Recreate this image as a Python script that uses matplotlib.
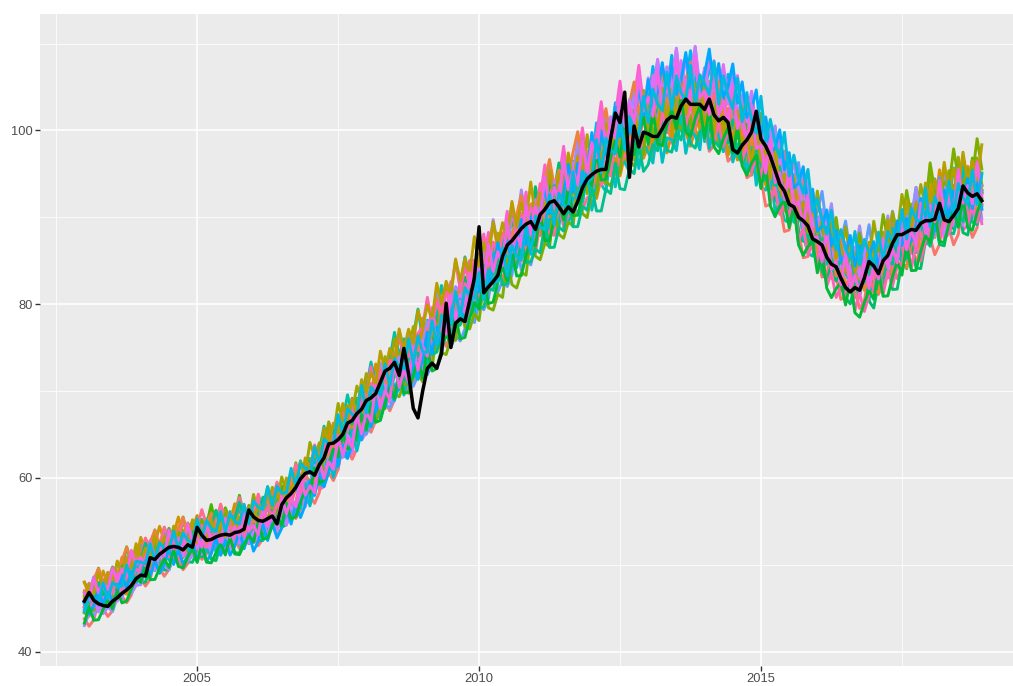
import numpy as np
import matplotlib
matplotlib.use("Agg")
import matplotlib.pyplot as plt

# monthly series, Jan 2003 .. Dec 2018
start_year = 2003

# observed index (black line), one row per year
observed = [
    45.8, 46.8, 45.9, 45.5, 45.3, 45.2, 45.8, 46.2, 46.7, 47.1, 47.6, 48.4,
    48.8, 48.7, 50.8, 50.6, 51.2, 51.6, 52.0, 52.1, 52.0, 51.7, 52.3, 52.0,
    54.3, 53.4, 52.8, 52.9, 53.2, 53.4, 53.5, 53.4, 53.7, 53.8, 54.1, 56.3,
    55.5, 55.1, 55.0, 55.3, 55.6, 54.7, 56.9, 57.7, 58.2, 58.9, 59.9, 60.5,
    60.7, 60.3, 61.5, 62.3, 63.9, 64.0, 64.4, 65.0, 66.3, 66.6, 67.4, 67.9,
    68.9, 69.2, 69.7, 71.0, 72.3, 72.6, 73.3, 71.8, 74.9, 72.0, 68.0, 66.9,
    70.0, 72.6, 73.2, 72.6, 74.3, 80.1, 75.0, 77.8, 78.3, 78.0, 80.4, 83.0,
    88.9, 81.3, 82.0, 82.6, 83.3, 85.5, 86.8, 87.3, 88.0, 88.7, 89.2, 89.5,
    88.6, 90.3, 90.9, 91.7, 91.9, 91.2, 90.4, 91.2, 90.6, 91.8, 93.4, 94.4,
    94.9, 95.3, 95.5, 95.5, 99.0, 102.0, 100.9, 104.4, 94.6, 100.5, 98.1, 99.8,
    99.6, 99.3, 99.3, 100.2, 101.2, 101.6, 101.4, 102.8, 103.6, 103.0, 103.0, 103.0,
    102.4, 103.6, 101.8, 101.1, 101.5, 100.9, 97.8, 97.4, 98.3, 98.9, 99.8, 102.2,
    99.0, 98.2, 97.0, 95.4, 93.8, 93.0, 91.5, 91.2, 90.0, 89.6, 89.0, 87.5,
    87.2, 86.8, 85.4, 84.6, 84.3, 83.0, 81.9, 81.4, 81.9, 81.6, 83.0, 84.9,
    84.4, 83.5, 85.0, 85.6, 87.0, 88.0, 88.0, 88.3, 88.6, 88.5, 89.3, 89.6,
    89.6, 89.8, 91.6, 89.7, 89.5, 90.2, 91.0, 93.6, 92.8, 92.4, 92.7, 91.9,
]

# centre of the simulated band
band_centre = [
    45.5, 45.8, 46.1, 46.4, 46.7, 47.0, 47.2, 47.7, 48.2, 48.7, 49.1, 49.6,
    50.0, 50.3, 50.6, 50.9, 51.2, 51.5, 51.8, 52.0, 52.2, 52.3, 52.5, 52.7,
    52.8, 53.0, 53.1, 53.3, 53.4, 53.6, 53.7, 53.9, 54.1, 54.3, 54.4, 54.6,
    54.8, 55.1, 55.4, 55.8, 56.1, 56.4, 56.7, 57.3, 57.8, 58.4, 58.9, 59.5,
    60.0, 60.7, 61.4, 62.1, 62.8, 63.5, 64.2, 64.8, 65.5, 66.1, 66.7, 67.4,
    68.0, 68.6, 69.3, 69.9, 70.5, 71.2, 71.8, 72.3, 72.8, 73.3, 73.8, 74.3,
    74.8, 75.5, 76.1, 76.8, 77.5, 78.1, 78.8, 79.4, 80.0, 80.6, 81.2, 81.8,
    82.4, 83.0, 83.5, 84.1, 84.7, 85.2, 85.8, 86.3, 86.8, 87.3, 87.9, 88.4,
    88.9, 89.4, 90.0, 90.5, 91.0, 91.5, 92.0, 92.5, 93.0, 93.5, 94.0, 94.5,
    95.0, 95.6, 96.1, 96.7, 97.2, 97.8, 98.3, 98.7, 99.1, 99.6, 100.0, 100.4,
    100.8, 101.1, 101.4, 101.7, 102.0, 102.3, 102.6, 102.7, 102.8, 102.8, 102.8, 102.7,
    102.6, 102.4, 102.1, 101.8, 101.5, 101.2, 100.8, 100.3, 99.8, 99.2, 98.6, 98.0,
    97.5, 96.7, 95.9, 95.1, 94.4, 93.6, 92.8, 92.0, 91.2, 90.4, 89.6, 88.8,
    88.0, 87.3, 86.6, 85.9, 85.2, 84.6, 84.1, 83.8, 83.6, 83.5, 83.5, 83.7,
    84.0, 84.4, 84.8, 85.3, 85.8, 86.3, 86.9, 87.4, 87.9, 88.4, 88.8, 89.3,
    89.8, 90.1, 90.4, 90.7, 91.0, 91.3, 91.6, 91.8, 92.0, 92.2, 92.4, 92.6,
]

# yearly level of each simulation relative to the centre, % (2003..2018)
sim_level = [
    [1.5, 2.3, 1.2, 0.4, -0.6, -1.5, -0.8, 0.3, 1.4, 2.5, 3.2, 2.2, 1.0, -0.2, 0.6, 1.8],
    [-2.8, -1.9, -0.8, 0.2, 1.1, 2.0, 1.2, 0.1, -1.0, -2.1, -3.0, -2.2, -1.1, 0.0, 1.0, 2.1],
    [0.4, -0.6, -1.7, -2.6, -3.5, -2.6, -1.5, -0.4, 0.7, 1.8, 2.7, 3.5, 2.5, 1.4, 0.3, -0.8],
    [3.4, 2.6, 3.3, 2.2, 1.1, 0.0, -1.0, -0.1, 1.0, 2.0, 1.0, -0.2, -1.3, -0.5, 0.6, 1.5],
    [-1.0, 0.0, 1.1, 2.2, 3.2, 3.9, 3.0, 2.0, 0.9, -0.2, -1.2, -2.3, -3.2, -2.4, -1.3, -0.3],
    [-4.8, -4.0, -3.0, -3.8, -4.5, -3.4, -2.3, -1.2, -0.2, -1.1, -2.2, -3.2, -4.1, -3.3, -2.4, -3.4],
    [2.4, 1.4, 0.3, -0.8, -1.8, -2.9, -3.8, -2.9, -1.8, -0.7, 0.4, 1.5, 2.6, 3.5, 2.7, 1.6],
    [-0.3, 0.8, 1.9, 3.0, 3.8, 2.9, 1.8, 0.7, -0.4, -1.5, -0.6, 0.5, 1.6, 2.7, 3.6, 2.8],
    [1.0, 0.1, -1.0, -2.0, -1.1, 0.0, 1.1, 2.2, 3.2, 4.0, 3.1, 2.0, 0.9, -0.2, -1.2, -2.1],
    [-2.1, -3.1, -4.0, -3.2, -2.1, -1.0, 0.1, 1.2, 2.2, 1.3, 0.2, -0.9, -2.0, -3.0, -3.8, -2.9],
    [3.0, 3.8, 2.9, 1.8, 0.7, -0.4, 0.5, 1.6, 0.6, -0.5, -1.6, -2.5, -1.6, -0.5, 0.6, 1.7],
    [-4.0, -3.1, -2.0, -0.9, 0.2, 1.3, 2.3, 3.2, 2.4, 1.3, 0.2, 1.1, 2.2, 3.1, 2.2, 1.1],
    [0.0, -1.0, -2.1, -3.1, -3.9, -3.0, -1.9, -0.8, -1.8, -2.9, -3.8, -2.9, -1.8, -0.7, 0.4, 1.4],
    [2.0, 3.0, 3.8, 3.0, 1.9, 0.8, -0.3, -1.4, -2.4, -1.5, -0.4, 0.7, 1.8, 0.8, -0.3, -1.3],
    [-1.5, -0.5, 0.6, -0.5, -1.6, -2.6, -3.5, -4.2, -3.3, -2.2, -1.1, 0.0, 1.1, 2.1, 3.0, 3.7],
    [3.8, 3.0, 2.0, 0.9, -0.2, 0.8, 1.9, 3.0, 3.8, 3.0, 1.9, 0.8, -0.3, -1.3, -2.2, -1.2],
    [-2.5, -1.5, -2.4, -3.3, -2.3, -1.2, -0.1, 1.0, 2.0, 3.0, 3.7, 2.8, 1.7, 0.6, -0.5, -1.5],
    [0.8, 1.8, 2.8, 1.8, 0.7, -0.4, -1.5, -2.5, -3.4, -4.1, -3.2, -2.1, -1.0, 0.1, -0.9, -2.0],
    [-0.7, -1.7, -0.6, 0.5, 1.6, 2.6, 3.5, 2.6, 1.5, 0.4, -0.7, -1.8, -2.8, -3.7, -2.8, -1.7],
    [2.7, 1.7, 0.6, 1.7, 2.8, 3.7, 4.3, 3.4, 2.3, 1.2, 0.1, -1.0, 0.0, 1.1, 2.2, 3.2],
    [-1.8, -2.8, -3.7, -4.4, -3.5, -2.4, -1.3, -0.2, 0.9, 2.0, 3.0, 3.8, 3.0, 1.9, 0.8, -0.3],
    [-4.4, -3.6, -4.3, -3.4, -2.3, -3.2, -4.0, -3.1, -2.0, -0.9, -1.9, -2.9, -3.8, -4.5, -3.6, -2.5],
    [1.7, 0.7, -0.4, -1.5, -2.5, -1.6, -0.5, 0.6, 1.7, 2.8, 2.0, 0.9, -0.2, -1.3, -0.3, 0.8],
    [-0.4, 0.6, 1.7, 2.7, 1.8, 0.7, -0.4, -1.5, -0.6, 0.5, 1.6, 2.7, 3.6, 2.7, 1.6, 0.5],
]

# spiky month-to-month wiggle of each simulation, %, repeated along the series
sim_wiggle = [
    [-1.0, 3.0, -0.5, -1.5],
    [0.5, -1.0, 3.5, 0.0, -1.5],
    [-1.5, 2.5, -1.0],
    [2.0, -1.0, -0.5, 3.5, -1.5, -1.0],
    [-0.5, 3.0, -1.5, 0.5, -1.0],
    [1.0, -1.5, -0.5, 3.5],
    [-1.5, -0.5, 3.0, -1.0, 0.0],
    [3.0, -1.0, 0.5, -1.5, 2.0, -1.5],
    [-1.0, 0.0, 3.5, -1.5],
    [0.0, 3.0, -1.0, -1.5, 1.5],
    [2.5, -1.5, 0.5, -1.0],
    [-1.5, 1.0, -0.5, 3.5, -1.0, 0.0],
    [0.5, -1.0, 3.0, -1.5, 1.0],
    [-1.0, 2.5, -1.0, 0.0],
    [3.5, -0.5, -1.5, 0.0, -1.0],
    [-0.5, -1.5, 1.0, 3.0, -1.0, 0.5],
    [1.5, -1.0, 3.0, -1.5],
    [-1.5, 0.5, -0.5, 2.5, -1.0],
    [0.0, 3.5, -1.5, 1.0, -1.5, 0.5],
    [-1.0, 1.5, -1.5, 3.0],
    [2.0, -1.5, 0.0, 3.0, -1.0],
    [-0.5, 3.0, -1.0, -1.5, 0.5, 2.0],
    [1.0, -1.5, 3.5, -1.0],
    [-1.5, 2.0, 0.0, -1.0, 3.0],
]

# which palette entry each simulation gets (drawn in list order)
sim_colour = [14, 2, 19, 7, 11, 0, 16, 5, 21, 9, 3, 17,
              12, 23, 6, 1, 18, 10, 22, 4, 15, 8, 20, 13]

y_ticks = [40, 60, 80, 100]
x_ticks = [2005, 2010, 2015]


def hue_pal(n, c=100, l=65):
    # ggplot2 default discrete palette (polar Luv -> sRGB)
    hues = np.linspace(15, 375, n + 1)[:-1]
    xn, yn, zn = 95.047, 100.0, 108.883
    un = 4 * xn / (xn + 15 * yn + 3 * zn)
    vn = 9 * yn / (xn + 15 * yn + 3 * zn)
    m = np.array([[3.2406, -1.5372, -0.4986],
                  [-0.9689, 1.8758, 0.0415],
                  [0.0557, -0.2040, 1.0570]])
    cols = []
    for h in hues:
        u = c * np.cos(np.radians(h))
        v = c * np.sin(np.radians(h))
        Y = yn * ((l + 16) / 116) ** 3
        up = u / (13 * l) + un
        vp = v / (13 * l) + vn
        X = Y * 9 * up / (4 * vp)
        Z = Y * (12 - 3 * up - 20 * vp) / (4 * vp)
        rgb = m @ (np.array([X, Y, Z]) / 100)
        rgb = np.where(rgb <= 0.0031308, 12.92 * rgb,
                       1.055 * np.clip(rgb, 0, None) ** (1 / 2.4) - 0.055)
        cols.append(tuple(np.clip(rgb, 0, 1)))
    return cols


n = len(observed)
t = start_year + np.arange(n) / 12.0
centre = np.array(band_centre)
idx = np.arange(n)

fig = plt.figure(figsize=(10.13, 6.86), dpi=100)
ax = fig.add_axes([0.039, 0.0292, 0.961, 0.9504])
ax.set_facecolor("#EBEBEB")

pal = hue_pal(len(sim_level))
for lev, wig, ci in zip(sim_level, sim_wiggle, sim_colour):
    dev = np.array(lev)[idx // 12] + np.array(wig)[idx % len(wig)]
    ax.plot(t, centre * (1 + dev / 100.0), color=pal[ci], lw=2.1, zorder=2)

ax.plot(t, observed, color="black", lw=2.5, zorder=3)

ax.set_xlim(2002.204, 2019.47)
ax.set_ylim(38.34, 113.4)
ax.set_xticks(x_ticks)
ax.set_xticklabels([str(v) for v in x_ticks])
ax.set_yticks(y_ticks)
ax.set_yticks([50, 70, 90, 110], minor=True)
ax.set_xticks([2002.5, 2007.5, 2012.5, 2017.5], minor=True)
ax.grid(which="major", color="white", lw=1.1, zorder=0)
ax.grid(which="minor", color="white", lw=0.55, zorder=0)
ax.set_axisbelow(True)
for s in ax.spines.values():
    s.set_visible(False)
ax.tick_params(which="major", length=3.5, width=1.0, color="#333333",
               labelcolor="#4D4D4D", labelsize=9.3, pad=1.5)
ax.tick_params(which="minor", length=0)
for lab in ax.get_xticklabels() + ax.get_yticklabels():
    lab.set_family(["Liberation Sans", "DejaVu Sans"])

fig.savefig("out.png", dpi=100)
